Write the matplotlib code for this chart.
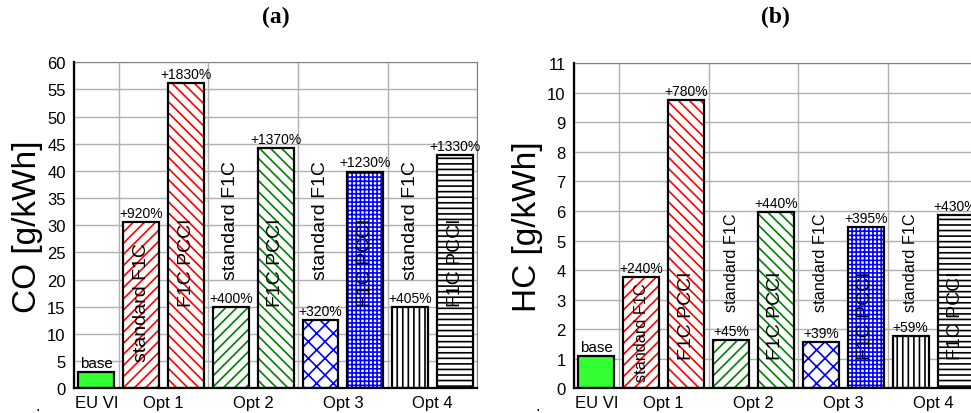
import matplotlib
matplotlib.use('Agg')
import matplotlib.pyplot as plt
from matplotlib.ticker import FixedLocator, MultipleLocator

plt.rcParams['font.family'] = ['Liberation Sans', 'DejaVu Sans']
plt.rcParams['hatch.linewidth'] = 1.2

# data
bar_names = ['base', 'standard F1C', 'F1C PCCI', 'standard F1C', 'F1C PCCI',
             'standard F1C', 'F1C PCCI', 'standard F1C', 'F1C PCCI']
group_labels = ['EU VI', 'Opt 1', 'Opt 2', 'Opt 3', 'Opt 4']
co_vals = [3.0, 30.6, 56.1, 14.9, 44.3, 12.5, 39.9, 15.0, 42.9]
hc_vals = [1.1, 3.78, 9.77, 1.62, 5.98, 1.55, 5.47, 1.77, 5.87]
co_pct = ['base', '+920%', '+1830%', '+400%', '+1370%', '+320%', '+1230%', '+405%', '+1330%']
hc_pct = ['base', '+240%', '+780%', '+45%', '+440%', '+39%', '+395%', '+59%', '+430%']

# styles per bar
colors = ['#33ff33', 'red', 'red', 'green', 'green', 'blue', 'blue', 'black', 'black']
hatches = [None, '///', '\\\\\\', '///', '\\\\\\', 'xx', '++++', '|||', '---']

# where the rotated names start (data units), per panel
co_name_y = [None, 5.1, 15.2, 20.1, 15.2, 20.1, 15.2, 20.1, 15.2]
hc_name_y = [None, 0.26, 1.0, 2.63, 1.0, 2.63, 1.0, 2.63, 1.0]
co_std_size = 14
hc_std_size = 11.7


def draw_panel(ax, vals, pcts, name_y, std_size, ymax, ystep, ylabel, title, fig):
    x = [i + 0.5 for i in range(len(vals))]
    for i, v in enumerate(vals):
        if hatches[i] is None:
            ax.bar(x[i], v, 0.8, color=colors[i], edgecolor='black', linewidth=1.6, zorder=2)
        else:
            ax.bar(x[i], v, 0.8, color='white', edgecolor=colors[i], hatch=hatches[i],
                   linewidth=0, zorder=2)
            ax.bar(x[i], v, 0.8, fill=False, edgecolor='black', linewidth=1.6, zorder=3)
        fs = 11 if i == 0 else 10
        ax.annotate(pcts[i], (x[i], v), xytext=(0, 1.5), textcoords='offset points',
                    ha='center', va='bottom', fontsize=fs, zorder=5)
        if name_y[i] is not None:
            size = std_size if bar_names[i] == 'standard F1C' else 14
            ax.text(x[i], name_y[i], bar_names[i], rotation=90, ha='center', va='bottom',
                    fontsize=size, zorder=5)

    ax.set_xlim(0, 9)
    ax.set_ylim(0, ymax)
    ax.yaxis.set_major_locator(MultipleLocator(ystep))
    ax.xaxis.set_major_locator(FixedLocator([0.5, 2, 4, 6, 8]))
    ax.set_xticklabels(group_labels)
    ax.xaxis.set_minor_locator(FixedLocator(range(10)))
    ax.tick_params(axis='both', which='both', length=0, labelsize=12)
    ax.tick_params(axis='y', pad=6)
    ax.tick_params(axis='x', pad=4.5)
    ax.grid(axis='y', color='#b0b0b0', linewidth=1)
    ax.grid(axis='x', which='minor', color='#b0b0b0', linewidth=1)
    ax.set_axisbelow(True)
    for s in ['left', 'bottom']:
        ax.spines[s].set_linewidth(1.6)
        ax.spines[s].set_zorder(4)
    for s in ['top', 'right']:
        ax.spines[s].set_color('#808080')
    ax.set_ylabel(ylabel, fontsize=24)
    ax.yaxis.set_label_coords(-0.077, 0.5)
    ax.text(-0.09, -0.066, '.', transform=ax.transAxes, ha='center', va='baseline', fontsize=12)
    pos = ax.get_position()
    fig.text(pos.x0 + pos.width / 2, 0.957, title, ha='center', va='center',
             fontsize=17, fontweight='bold', family='Liberation Serif')


fig = plt.figure(figsize=(9.71, 4.14), dpi=100)
ax1 = fig.add_axes([0.0762, 0.0597, 0.4155, 0.7874])
ax2 = fig.add_axes([0.5911, 0.0597, 0.4160, 0.7850])

draw_panel(ax1, co_vals, co_pct, co_name_y, co_std_size, 60, 5, 'CO [g/kWh]', '(a)', fig)
draw_panel(ax2, hc_vals, hc_pct, hc_name_y, hc_std_size, 11, 1, 'HC [g/kWh]', '(b)', fig)

fig.savefig('out.png', dpi=100)
